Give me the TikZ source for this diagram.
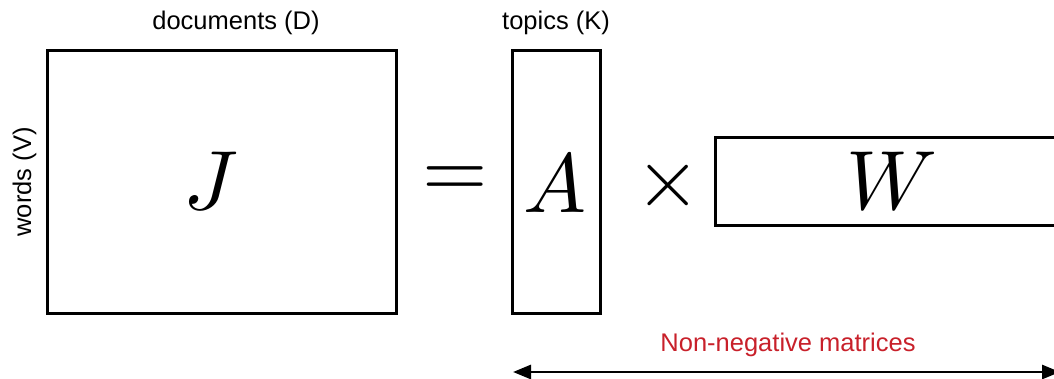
\documentclass[tikz,border=0pt]{standalone}
\usepackage{fontspec}
\setmainfont{Liberation Sans}
\usepackage{unicode-math}
\setmathfont{Latin Modern Math}
\usetikzlibrary{arrows.meta}
\definecolor{nmred}{RGB}{200,32,42}
\begin{document}
\begin{tikzpicture}[x=1pt,y=-1pt,
  mat/.style={draw,line width=3pt,inner sep=0pt,minimum width=#1},
  lbl/.style={font=\fontsize{25.5}{30}\selectfont,inner sep=0pt},
  big/.style={font=\fontsize{84}{90}\selectfont,inner sep=0pt}]
\useasboundingbox (0,0) rectangle (1054,379);
\begin{scope}
\clip (0,0) rectangle (1054,379);
\node[mat=349pt,minimum height=262pt] (J) at (221.5,182) {};
\node[mat=88pt,minimum height=262pt] (A) at (556,182) {};
\node[mat=350pt,minimum height=88pt] (W) at (890,182) {};
\node[big] (j) at (211,182) {$J$};
\node[big] (a) at (555,182) {$A$};
\node[big] (w) at (892,182) {$W$};
\node[big] (eq) at (455,182) {$=$};
\node[big] (x) at (668,186) {$\times$};
\node[lbl,anchor=base] (docs) at (236,30) {documents (D)};
\node[lbl,anchor=base] (top) at (556,30) {topics (K)};
\node[lbl,anchor=base,rotate=90] (words) at (31,182) {words (V)};
\node[lbl,anchor=base,text=nmred] (nn) at (788,351) {Non-negative matrices};
\coordinate (l) at (513,372);
\coordinate (r) at (1060,372);
\draw[line width=2.8pt,{Triangle[length=18pt,width=14pt]}-{Triangle[length=18pt,width=14pt]}] (l) -- (r);
\end{scope}
\end{tikzpicture}
\end{document}
